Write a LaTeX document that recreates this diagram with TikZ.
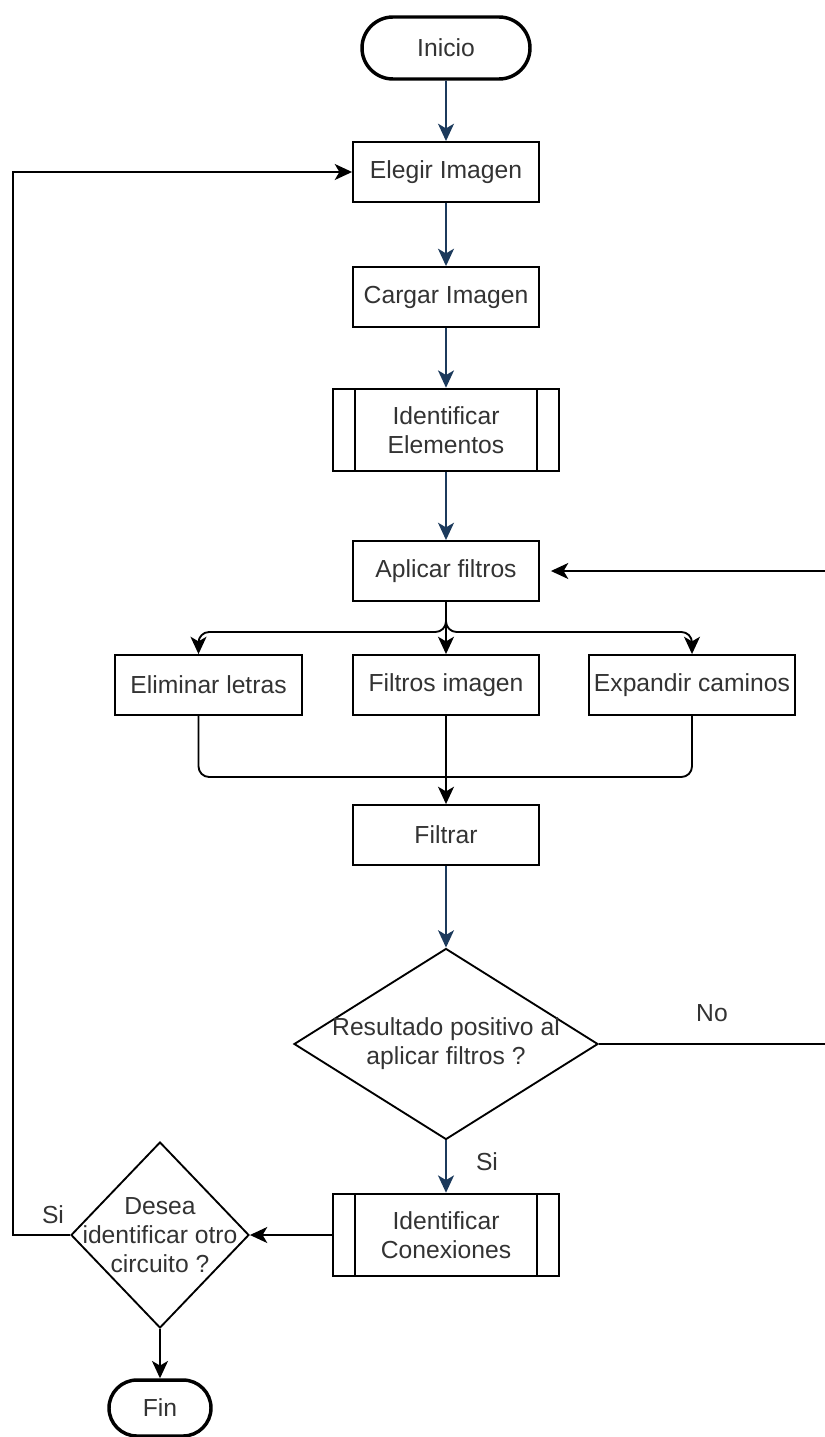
\documentclass[tikz,border=0pt]{standalone}
\usepackage{fontspec}
\setmainfont{Liberation Sans}
\usetikzlibrary{arrows.meta,shapes.geometric,shapes.misc,calc}
\definecolor{flowblue}{RGB}{28,58,92}
\definecolor{txt}{RGB}{51,51,51}
\begin{document}
\begin{tikzpicture}[x=0.75pt,y=-0.75pt,
  every node/.style={font=\fontsize{18.5}{21.75}\selectfont, text=txt, align=center},
  box/.style={draw=black, line width=1.4pt, rectangle, inner sep=0pt,
    minimum width=139.5pt, minimum height=45pt, fill=white},
  subproc/.style={box, minimum width=169pt, minimum height=62pt,
    path picture={\draw[line width=1.4pt]
      ([xshift=16.5pt]path picture bounding box.north west) -- ([xshift=16.5pt]path picture bounding box.south west)
      ([xshift=-16.5pt]path picture bounding box.north east) -- ([xshift=-16.5pt]path picture bounding box.south east);}},
  term/.style={draw=black, line width=2.6pt, rounded rectangle, inner sep=0pt, fill=white},
  decision/.style={draw=black, line width=1.4pt, diamond, inner sep=0pt},
  line/.style={line width=1.4pt, draw=black},
  link/.style={line, -{Stealth[length=13pt,width=12pt,inset=3.5pt]}},
  bluelink/.style={link, draw=flowblue, color=flowblue}
]
\useasboundingbox (0,0) rectangle (824,1437);

% main column
\node[term, minimum width=126pt, minimum height=46.5pt] (ini) at (446,48) {Inicio};
\node[box] (ele) at (446,172) {Elegir Imagen};
\node[box] (car) at (446,297) {Cargar Imagen};
\node[subproc] (ide) at (446,430) {Identificar\\Elementos};
\node[box] (apl) at (446,571) {Aplicar filtros};

% filter branches
\node[box, minimum width=140.25pt] (eli) at (208.5,685) {Eliminar letras};
\node[box] (fil) at (446,685) {Filtros imagen};
\node[box, minimum width=154.5pt] (exp) at (692,685) {Expandir caminos};

\node[box] (filt) at (446,835) {Filtrar};
\node[decision, minimum width=228pt, minimum height=143.25pt,
  label=center:{Resultado positivo al\\aplicar filtros ?}] (dec1) at (446,1044) {};
\node[subproc] (con) at (446,1235) {Identificar\\Conexiones};
\node[decision, minimum width=133.5pt, minimum height=139.5pt,
  label=center:{Desea\\identificar otro\\circuito ?}] (dec2) at (160,1235) {};
\node[term, minimum width=76.5pt, minimum height=42pt] (fin) at (160,1408) {Fin};

% helper points for the routed connectors
\coordinate (split) at (446,632);
\coordinate (join) at (446,777);
\coordinate (eliIn) at ($(eli.north)+(-10,0)$);
\coordinate (eliOut) at ($(eli.south)+(-10,0)$);
\coordinate (aplIn) at ($(apl.east)+(11,0)$);
\coordinate (loopR) at (836,0);
\coordinate (loopL) at (13,0);

% straight flow
\draw[bluelink] (ini) -- (ele);
\draw[bluelink] (ele) -- (car);
\draw[bluelink] (car) -- (ide);
\draw[bluelink] (ide) -- (apl);

% fan out to the three filters
\draw[link, rounded corners=8pt] (apl.south) -- (split) -| (eliIn);
\draw[link] (apl.south) -- (fil.north);
\draw[link, rounded corners=8pt] (apl.south) -- (split) -| (exp.north);

% fan in
\draw[line, rounded corners=8pt] (eliOut) |- (join) -| (exp.south);
\draw[link] (fil.south) -- (filt.north);

\draw[bluelink] (filt) -- (dec1);

% negative result: back to the filters
\draw[link] (dec1.east) -- (dec1.east -| loopR) -- (apl.east -| loopR) -- (aplIn);
\node (noLbl) at (712,1013) {No};

% positive result
\draw[bluelink] (dec1.south) -- (con.north);
\node (siLbl) at (487,1162) {Si};

\draw[link] (con.west) -- (dec2.east);

% another circuit: back to the start
\draw[link] (dec2.west) -- (dec2.west -| loopL) -- (ele.west -| loopL) -- (ele.west);
\node (siLbl2) at (53,1215) {Si};

\draw[link] (dec2.south) -- (fin.north);
\end{tikzpicture}
\end{document}
